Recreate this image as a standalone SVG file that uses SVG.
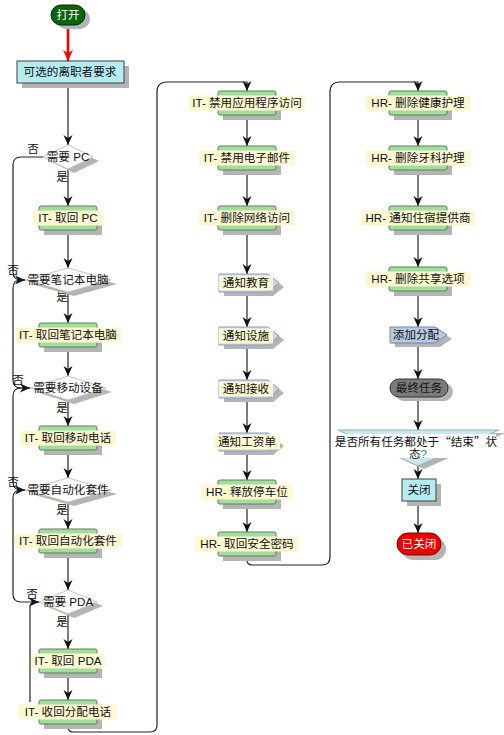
<svg xmlns="http://www.w3.org/2000/svg" width="504" height="735" viewBox="0 0 504 735">
<style>
.t{font-family:"Liberation Sans","Noto Sans CJK SC",sans-serif;font-size:11.6px;fill:#111;text-anchor:middle}
.cj{font-family:"Noto Sans CJK SC",sans-serif}
.sh{fill:#b4b4b4}
.pr{fill:#a2dd9c;stroke:#5a805a;stroke-width:1}
.lb{fill:#fdf8d2}
.ln{fill:none;stroke:#222;stroke-width:1.2}
.dc{fill:#fff;stroke:#c4c4c4;stroke-width:1}
.sg{fill:#cbd5e8;stroke:#8c9ec2;stroke-width:1}
.cy{fill:#b4ecf0;stroke:#404040;stroke-width:1}
</style>
<defs>
<marker id="a" viewBox="0 0 10 10" refX="10" refY="5" markerWidth="10" markerHeight="10" markerUnits="userSpaceOnUse" orient="auto"><path d="M0,0.5 L10,5 L0,9.5 L3,5 z" fill="#111"/></marker>
<marker id="ar" viewBox="0 0 10 10" refX="10" refY="5" markerWidth="11" markerHeight="11" markerUnits="userSpaceOnUse" orient="auto"><path d="M0,0.5 L10,5 L0,9.5 L3,5 z" fill="#f00"/></marker>
</defs>
<rect width="504" height="735" fill="#fff"/>

<g id="connectors">
<line x1="68" y1="26" x2="68" y2="61" stroke="#f00" stroke-width="2.6" marker-end="url(#ar)"/>
<path class="ln" d="M68,83 V145" marker-end="url(#a)"/>
<path class="ln" d="M68,169 V206" marker-end="url(#a)"/>
<path class="ln" d="M68,230 V268" marker-end="url(#a)"/>
<path class="ln" d="M68,292 V323" marker-end="url(#a)"/>
<path class="ln" d="M68,347 V376" marker-end="url(#a)"/>
<path class="ln" d="M68,400 V426" marker-end="url(#a)"/>
<path class="ln" d="M68,450 V478" marker-end="url(#a)"/>
<path class="ln" d="M68,502 V529" marker-end="url(#a)"/>
<path class="ln" d="M68,553 V590" marker-end="url(#a)"/>
<path class="ln" d="M68,614 V649" marker-end="url(#a)"/>
<path class="ln" d="M68,673 V700" marker-end="url(#a)"/>
<path class="ln" d="M43,157 H21 Q13,157 13,165 V272 Q13,280 21,280 H25" marker-end="url(#a)"/>
<path class="ln" d="M25,280 H21 Q13,280 13,288 V380 Q13,388 21,388 H30" marker-end="url(#a)"/>
<path class="ln" d="M30,388 H21 Q13,388 13,396 V482 Q13,490 21,490 H25" marker-end="url(#a)"/>
<path class="ln" d="M25,490 H21 Q13,490 13,498 V594 Q13,602 21,602 H39" marker-end="url(#a)"/>
<path class="ln" d="M39,602 H35 Q30,602 30,607 V702"/>
<path class="ln" d="M68,724 V727 Q68,732 73,732 H150 Q157,732 157,725 V92 Q157,82 167,82 H247 V91" marker-end="url(#a)"/>
<path class="ln" d="M247,115 V146" marker-end="url(#a)"/>
<path class="ln" d="M247,170 V206" marker-end="url(#a)"/>
<path class="ln" d="M247,230 V274" marker-end="url(#a)"/>
<path class="ln" d="M247,292 V327" marker-end="url(#a)"/>
<path class="ln" d="M247,345 V380" marker-end="url(#a)"/>
<path class="ln" d="M247,398 V433" marker-end="url(#a)"/>
<path class="ln" d="M247,451 V480" marker-end="url(#a)"/>
<path class="ln" d="M247,504 V532" marker-end="url(#a)"/>
<path class="ln" d="M247,556 V560 Q247,565 252,565 H322 Q330,565 330,557 V92 Q330,82 340,82 H418 V91" marker-end="url(#a)"/>
<path class="ln" d="M418,115 V146" marker-end="url(#a)"/>
<path class="ln" d="M418,170 V206" marker-end="url(#a)"/>
<path class="ln" d="M418,230 V267" marker-end="url(#a)"/>
<path class="ln" d="M418,291 V327" marker-end="url(#a)"/>
<path class="ln" d="M418,343 V379" marker-end="url(#a)"/>
<path class="ln" d="M418,397 V430" marker-end="url(#a)"/>
<path class="ln" d="M418,462 V479" marker-end="url(#a)"/>
<path class="ln" d="M418,501 V533" marker-end="url(#a)"/>
<text class="t" x="33" y="153">否</text>
<text class="t" x="62" y="181">是</text>
<text class="t" x="13" y="274">否</text>
<text class="t" x="62" y="301">是</text>
<text class="t" x="18" y="384">否</text>
<text class="t" x="62" y="412">是</text>
<text class="t" x="13" y="486">否</text>
<text class="t" x="62" y="514">是</text>
<text class="t" x="32" y="598">否</text>
<text class="t" x="62" y="626">是</text>
</g>

<g id="n_start"><rect class="sh" x="56" y="9" width="34" height="20" rx="10"/><rect x="51" y="5" width="34" height="20" rx="10" fill="#0a640a" stroke="#002800"/><text class="t" x="68" y="19" style="fill:#fff">打开</text></g>
<g id="n_req"><rect class="sh" x="22" y="66" width="107" height="22"/><rect class="cy" x="17" y="61" width="107" height="22"/><text class="t" x="70" y="76">可选的离职者要求</text></g>

<g id="d_pc"><polygon class="sh" points="49,161 74,149 99,161 74,173"/><polygon class="dc" points="43,157 68,145 93,157 68,169"/><text class="t" x="68" y="161">需要 PC</text></g>
<g id="n_pc"><rect class="sh" x="44" y="211" width="58" height="24"/><rect class="pr" x="39" y="206" width="58" height="24" rx="2"/><rect class="lb" x="33" y="210.5" width="70" height="15"/><text class="t" x="68" y="222">IT- 取回 PC</text></g>
<g id="d_laptop"><polygon class="sh" points="31,284 74,272 117,284 74,296"/><polygon class="dc" points="25,280 68,268 111,280 68,292"/><text class="t" x="68" y="284">需要笔记本电脑</text></g>
<g id="n_laptop"><rect class="sh" x="44" y="328" width="58" height="24"/><rect class="pr" x="39" y="323" width="58" height="24" rx="2"/><rect class="lb" x="15" y="327.5" width="106" height="15"/><text class="t" x="68" y="339">IT- 取回笔记本电脑</text></g>
<g id="d_mobile"><polygon class="sh" points="36,392 74,380 112,392 74,404"/><polygon class="dc" points="30,388 68,376 106,388 68,400"/><text class="t" x="68" y="392">需要移动设备</text></g>
<g id="n_mobile"><rect class="sh" x="44" y="431" width="58" height="24"/><rect class="pr" x="39" y="426" width="58" height="24" rx="2"/><rect class="lb" x="20" y="430.5" width="96" height="15"/><text class="t" x="68" y="442">IT- 取回移动电话</text></g>
<g id="d_auto"><polygon class="sh" points="31,494 74,482 117,494 74,506"/><polygon class="dc" points="25,490 68,478 111,490 68,502"/><text class="t" x="68" y="494">需要自动化套件</text></g>
<g id="n_auto"><rect class="sh" x="44" y="534" width="58" height="24"/><rect class="pr" x="39" y="529" width="58" height="24" rx="2"/><rect class="lb" x="14" y="533.5" width="108" height="15"/><text class="t" x="68" y="545">IT- 取回自动化套件</text></g>
<g id="d_pda"><polygon class="sh" points="45,606 74,594 103,606 74,618"/><polygon class="dc" points="39,602 68,590 97,602 68,614"/><text class="t" x="68" y="606">需要 PDA</text></g>
<g id="n_pda"><rect class="sh" x="44" y="654" width="58" height="24"/><rect class="pr" x="39" y="649" width="58" height="24" rx="2"/><rect class="lb" x="31" y="653.5" width="74" height="15"/><text class="t" x="68" y="665">IT- 取回 PDA</text></g>
<g id="n_phone"><rect class="sh" x="44" y="705" width="58" height="24"/><rect class="pr" x="39" y="700" width="58" height="24" rx="2"/><rect class="lb" x="19" y="704.5" width="98" height="15"/><text class="t" x="68" y="716">IT- 收回分配电话</text></g>

<g id="n_app"><rect class="sh" x="223" y="96" width="58" height="24"/><rect class="pr" x="218" y="91" width="58" height="24" rx="2"/><rect class="lb" x="189" y="95.5" width="116" height="15"/><text class="t" x="247" y="107">IT- 禁用应用程序访问</text></g>
<g id="n_mail"><rect class="sh" x="223" y="151" width="58" height="24"/><rect class="pr" x="218" y="146" width="58" height="24" rx="2"/><rect class="lb" x="199" y="150.5" width="96" height="15"/><text class="t" x="247" y="162">IT- 禁用电子邮件</text></g>
<g id="n_net"><rect class="sh" x="223" y="211" width="58" height="24"/><rect class="pr" x="218" y="206" width="58" height="24" rx="2"/><rect class="lb" x="199" y="210.5" width="96" height="15"/><text class="t" x="247" y="222">IT- 删除网络访问</text></g>
<g id="n_edu"><polygon class="sh" points="224,278 273,278 284,287 273,296 224,296"/><polygon class="sg" points="219,274 268,274 279,283 268,292 219,292"/><rect class="lb" x="219" y="275.5" width="54" height="15"/><text class="t" x="246" y="287">通知教育</text></g>
<g id="n_fac"><polygon class="sh" points="224,331 273,331 284,340 273,349 224,349"/><polygon class="sg" points="219,327 268,327 279,336 268,345 219,345"/><rect class="lb" x="219" y="328.5" width="54" height="15"/><text class="t" x="246" y="340">通知设施</text></g>
<g id="n_rec"><polygon class="sh" points="224,384 273,384 284,393 273,402 224,402"/><polygon class="sg" points="219,380 268,380 279,389 268,398 219,398"/><rect class="lb" x="219" y="381.5" width="54" height="15"/><text class="t" x="246" y="393">通知接收</text></g>
<g id="n_pay"><polygon class="sh" points="224,437 273,437 284,446 273,455 224,455"/><polygon class="sg" points="219,433 268,433 279,442 268,451 219,451"/><rect class="lb" x="214" y="434.5" width="66" height="15"/><text class="t" x="247" y="446">通知工资单</text></g>
<g id="n_park"><rect class="sh" x="223" y="485" width="58" height="24"/><rect class="pr" x="218" y="480" width="58" height="24" rx="2"/><rect class="lb" x="201" y="484.5" width="92" height="15"/><text class="t" x="247" y="496">HR- 释放停车位</text></g>
<g id="n_pwd"><rect class="sh" x="223" y="537" width="58" height="24"/><rect class="pr" x="218" y="532" width="58" height="24" rx="2"/><rect class="lb" x="195" y="536.5" width="104" height="15"/><text class="t" x="247" y="548">HR- 取回安全密码</text></g>

<g id="n_health"><rect class="sh" x="394" y="96" width="58" height="24"/><rect class="pr" x="389" y="91" width="58" height="24" rx="2"/><rect class="lb" x="366" y="95.5" width="104" height="15"/><text class="t" x="418" y="107">HR- 删除健康护理</text></g>
<g id="n_dental"><rect class="sh" x="394" y="151" width="58" height="24"/><rect class="pr" x="389" y="146" width="58" height="24" rx="2"/><rect class="lb" x="366" y="150.5" width="104" height="15"/><text class="t" x="418" y="162">HR- 删除牙科护理</text></g>
<g id="n_lodging"><rect class="sh" x="394" y="211" width="58" height="24"/><rect class="pr" x="389" y="206" width="58" height="24" rx="2"/><rect class="lb" x="361" y="210.5" width="114" height="15"/><text class="t" x="418" y="222">HR- 通知住宿提供商</text></g>
<g id="n_share"><rect class="sh" x="394" y="272" width="58" height="24"/><rect class="pr" x="389" y="267" width="58" height="24" rx="2"/><rect class="lb" x="366" y="271.5" width="104" height="15"/><text class="t" x="418" y="283">HR- 删除共享选项</text></g>
<g id="n_assign"><polygon class="sh" points="395,331 440,331 452,339 440,347 395,347"/><polygon points="390,327 435,327 447,335 435,343 390,343" fill="#b6c9e2" stroke="#6f87b0"/><text class="t" x="416" y="339">添加分配</text></g>
<g id="n_final"><rect class="sh" x="395" y="383" width="58" height="18" rx="9"/><rect x="390" y="379" width="58" height="18" rx="9" fill="#7a7a7a" stroke="#333"/><text class="t" x="419" y="392">最终任务</text></g>
<g id="d_all"><polygon class="sh" points="344,433 505,433 424,469"/><polygon points="338,430 499,430 418,466" fill="#c6e8f0" stroke="#8fb2bc"/><rect x="340" y="434" width="156" height="24" fill="#fff"/><text class="t" x="416" y="446">是否所有任务都处于<tspan class="cj">“</tspan>结束<tspan class="cj">”</tspan>状</text><text class="t" x="418" y="458">态<tspan style="fill:#2a8a9a">?</tspan></text></g>
<g id="n_close"><rect class="sh" x="407" y="484" width="34" height="22"/><rect class="cy" x="402" y="479" width="34" height="22"/><text class="t" x="419" y="494">关闭</text></g>
<g id="n_closed"><rect class="sh" x="402" y="538" width="44" height="22" rx="11"/><rect x="397" y="533" width="44" height="22" rx="11" fill="#ee0000" stroke="#7a0000"/><text class="t" x="419" y="548" style="fill:#fff">已关闭</text></g>
</svg>
